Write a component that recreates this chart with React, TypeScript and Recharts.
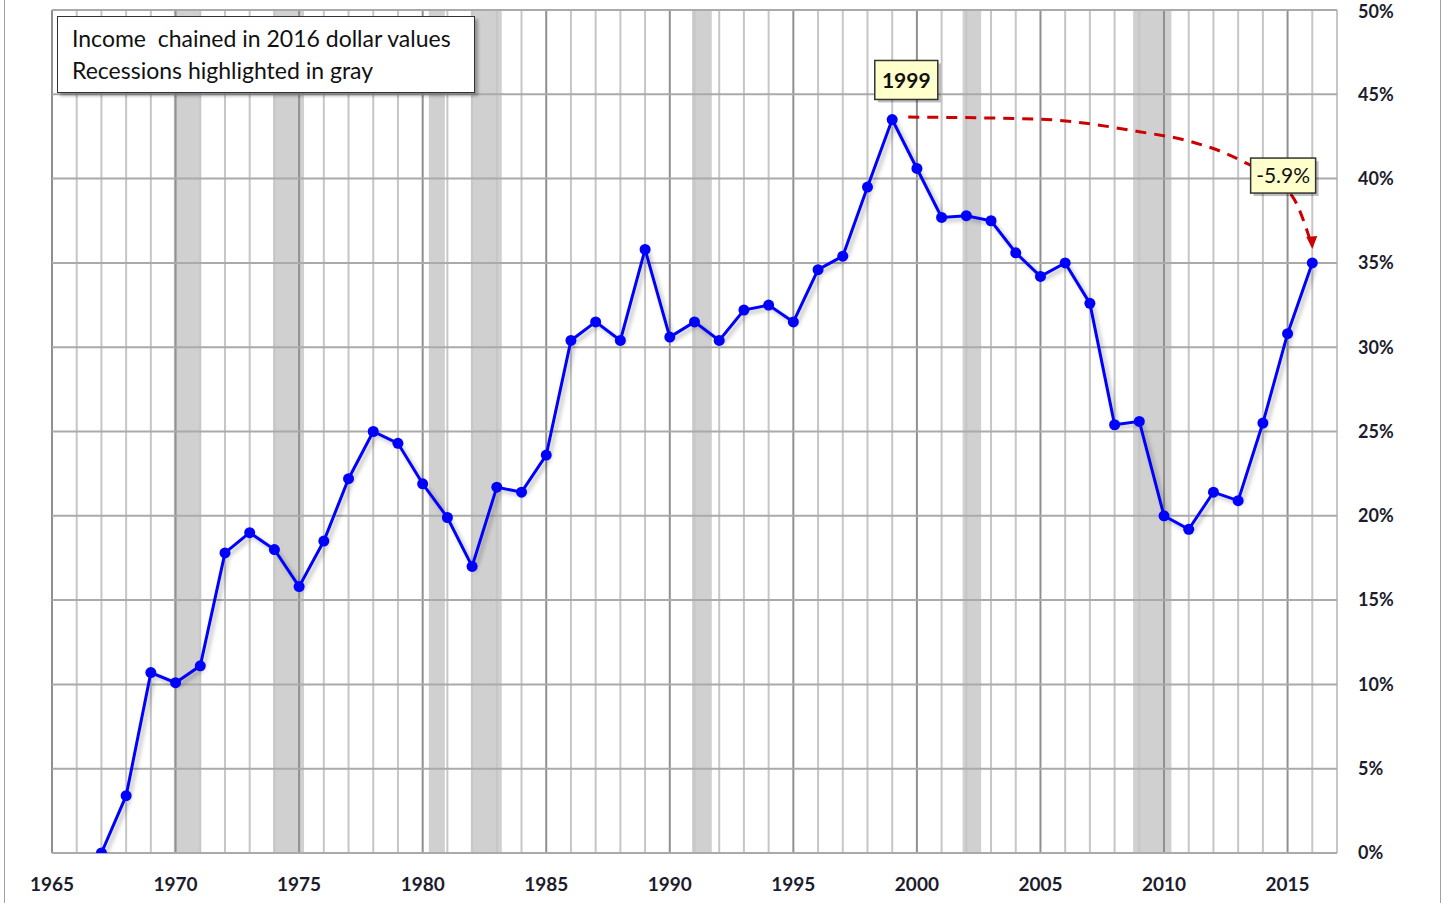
import {
  Line,
  LineChart,
  ReferenceArea,
  ReferenceDot,
  ReferenceLine,
  XAxis,
  YAxis,
} from "recharts";

const years = [
  1967, 1968, 1969, 1970, 1971, 1972, 1973, 1974, 1975, 1976, 1977, 1978, 1979,
  1980, 1981, 1982, 1983, 1984, 1985, 1986, 1987, 1988, 1989, 1990, 1991, 1992,
  1993, 1994, 1995, 1996, 1997, 1998, 1999, 2000, 2001, 2002, 2003, 2004, 2005,
  2006, 2007, 2008, 2009, 2010, 2011, 2012, 2013, 2014, 2015, 2016,
];

// % change of real income since 1967
const pctChange = [
  0, 3.4, 10.7, 10.1, 11.1, 17.8, 19.0, 18.0, 15.8, 18.5, 22.2, 25.0, 24.3,
  21.9, 19.9, 17.0, 21.7, 21.4, 23.6, 30.4, 31.5, 30.4, 35.8, 30.6, 31.5, 30.4,
  32.2, 32.5, 31.5, 34.6, 35.4, 39.5, 43.5, 40.6, 37.7, 37.8, 37.5, 35.6, 34.2,
  35.0, 32.6, 25.4, 25.6, 20.0, 19.2, 21.4, 20.9, 25.5, 30.8, 35.0,
];

// recession spans [start, end] in fractional years
const recessionStart = [1969.93, 1973.95, 1980.25, 1981.95, 1990.9, 2001.85, 2008.75];
const recessionEnd = [1971.0, 1975.2, 1980.9, 1983.2, 1991.7, 2002.6, 2010.3];

const xTicks = [1965, 1970, 1975, 1980, 1985, 1990, 1995, 2000, 2005, 2010, 2015];
const yTicks = [0, 5, 10, 15, 20, 25, 30, 35, 40, 45, 50];
const gridYears = Array.from({ length: 2017 - 1965 + 1 }, (_, i) => 1965 + i);

// dashed arrow from the 1999 peak down to 2016
const arcYears = [1999.65, 2005.0, 2009.0, 2011.1, 2013.1, 2015.2, 2016.0];
const arcValues = [43.65, 43.52, 42.78, 42.19, 41.08, 38.93, 35.95];

const peakLabel = { year: 1999.57, value: 45.85, text: "1999" };
const dropLabel = { year: 2014.82, value: 40.18, text: "-5.9%" };

const data = years.map((year, i) => ({ year, value: pctChange[i] }));
const arcData = arcYears.map((year, i) => ({ year, arc: arcValues[i] }));

const FONT = "Lato, 'Open Sans', sans-serif";
const TICK_COLOR = "#1c1c2c";

function XTick({ x, y, payload }: any) {
  return (
    <text x={x} y={y + 29} dy="0.35em" textAnchor="middle" fontFamily={FONT} fontWeight={700} fontSize={19} fill={TICK_COLOR}>
      {payload.value}
    </text>
  );
}

function YTick({ x, y, payload }: any) {
  return (
    <text x={x + 19} y={Math.max(y, 12)} dy="0.35em" textAnchor="start" fontFamily={FONT} fontWeight={700} fontSize={18} fill={TICK_COLOR}>
      {payload.value}%
    </text>
  );
}

function calloutShape(text: string, w: number, h: number, bold: boolean) {
  return ({ cx, cy }: any) => (
    <g>
      <rect x={cx - w / 2 + 3} y={cy - h / 2 + 3} width={w} height={h} fill="#000" opacity={0.25} />
      <rect x={cx - w / 2} y={cy - h / 2} width={w} height={h} fill="#ffffcc" stroke="#333" strokeWidth={1.5} />
      <text x={cx} y={cy} dy="0.36em" textAnchor="middle" fontFamily={FONT} fontWeight={bold ? 700 : 400} fontSize={21} fill="#111">
        {text}
      </text>
    </g>
  );
}

function ArrowHead(props: any) {
  const { cx, cy, index } = props;
  if (index !== arcData.length - 1) return <g key={`a${index}`} />;
  return <polygon key="arrow" points={`${cx - 6},${cy - 10} ${cx + 5},${cy - 11} ${cx},${cy + 2}`} fill="#cc0000" />;
}

export default function App() {
  return (
    <div style={{ position: "absolute", left: 0, top: 0, width: 1447, height: 903, background: "#fff" }}>
      <style>{`.income-line .recharts-line-curve { filter: drop-shadow(3px 3px 2px rgba(0,0,0,0.28)); }`}</style>
      <div style={{ position: "absolute", left: 4, top: 0, width: 1, height: 903, background: "#a0a0a0" }} />
      <div style={{ position: "absolute", left: 1440, top: 0, width: 1, height: 903, background: "#a0a0a0" }} />
      <LineChart width={1447} height={903} data={data} margin={{ top: 10, right: 0, bottom: 0, left: 52 }}>
        <XAxis
          dataKey="year"
          type="number"
          domain={[1965, 2017]}
          ticks={xTicks}
          allowDataOverflow
          axisLine={false}
          tickLine={false}
          tickSize={0}
          height={50}
          tick={<XTick />}
        />
        <YAxis
          orientation="right"
          type="number"
          domain={[0, 50]}
          ticks={yTicks}
          allowDataOverflow
          axisLine={false}
          tickLine={false}
          tickSize={0}
          width={110}
          tick={<YTick />}
        />
        {recessionStart.map((s, i) => (
          <ReferenceArea key={`r${i}`} x1={s} x2={recessionEnd[i]} fill="#d0d0d0" fillOpacity={1} stroke="none" zIndex={-90} />
        ))}
        {gridYears.map((yr) => (
          <ReferenceLine
            key={`gx${yr}`}
            x={yr}
            stroke={yr % 5 === 0 ? "#909090" : "#c6c6c6"}
            strokeWidth={2}
            zIndex={-80}
          />
        ))}
        {yTicks.map((v) => (
          <ReferenceLine key={`gy${v}`} y={v} stroke="#aaaaaa" strokeWidth={2} zIndex={-80} />
        ))}
        <Line
          data={arcData}
          dataKey="arc"
          type="monotone"
          stroke="#cc0000"
          strokeWidth={3}
          strokeDasharray="11 8"
          dot={<ArrowHead />}
          activeDot={false}
          isAnimationActive={false}
        />
        <Line
          className="income-line"
          dataKey="value"
          type="linear"
          stroke="#0000ff"
          strokeWidth={3}
          dot={{ r: 5.5, fill: "#0000ff", stroke: "#0000ff", strokeWidth: 0 }}
          activeDot={false}
          isAnimationActive={false}
        />
        <ReferenceDot x={peakLabel.year} y={peakLabel.value} shape={calloutShape(peakLabel.text, 63, 39, true)} zIndex={2000} />
        <ReferenceDot x={dropLabel.year} y={dropLabel.value} shape={calloutShape(dropLabel.text, 65, 35, false)} zIndex={2000} />
      </LineChart>
      <div
        style={{
          position: "absolute",
          left: 57,
          top: 16,
          width: 418,
          height: 77,
          background: "#fff",
          border: "1.5px solid #333",
          boxShadow: "3px 3px 3px rgba(0,0,0,0.3)",
          fontFamily: FONT,
          fontSize: 23,
          color: "#111",
          boxSizing: "border-box",
          paddingLeft: 14,
          paddingTop: 5,
          lineHeight: "32px",
          whiteSpace: "nowrap",
        }}
      >
        <div>Income&nbsp; chained in 2016 dollar values</div>
        <div>Recessions highlighted in gray</div>
      </div>
    </div>
  );
}
